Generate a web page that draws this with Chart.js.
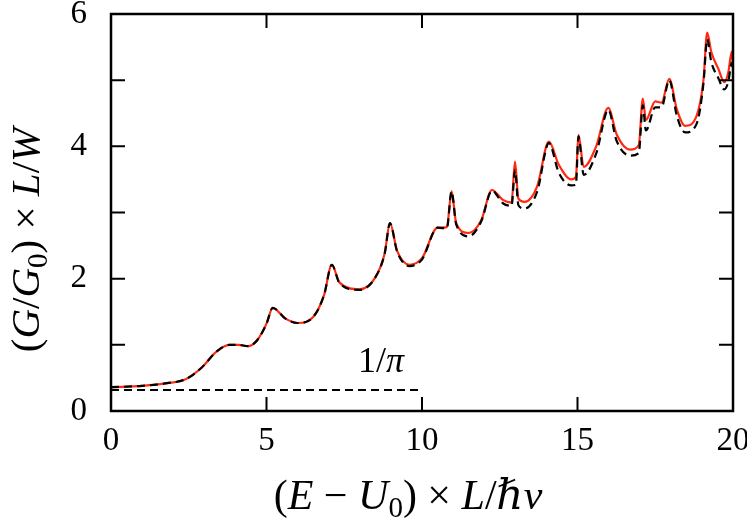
<!DOCTYPE html>
<html>
<head>
<meta charset="utf-8">
<script src="https://cdn.jsdelivr.net/npm/chart.js@4.4.1/dist/chart.umd.min.js"></script>
<style>
  html, body { margin: 0; padding: 0; background: #fff; }
</style>
</head>
<body>
<canvas id="chart" width="747" height="526"></canvas>
<script>
// energy axis, (E - U0) x L / hbar v
const energy = [0, 1, 1.8, 2.4, 2.9, 3.4, 3.8, 4.1, 4.4, 4.7,
  5.0, 5.2, 5.6, 6.0, 6.5, 6.85, 7.1, 7.35, 8.0, 8.5,
  8.8, 8.97, 9.2, 9.6, 10.0, 10.5, 10.8, 10.95, 11.1, 11.5,
  11.9, 12.25, 12.6, 12.88, 12.99, 13.1, 13.3, 13.7, 14.08, 14.4,
  14.8, 14.95, 15.03, 15.2, 15.6, 15.99, 16.26, 16.7, 16.97, 17.1,
  17.2, 17.5, 17.7, 17.95, 18.2, 18.46, 18.83, 19.05, 19.17, 19.3,
  19.53, 19.72, 19.85, 19.96, 20.0];

// solid red curve
const condRed = [0.36, 0.38, 0.42, 0.48, 0.65, 0.90, 1.00, 1.00, 0.98, 1.07,
  1.32, 1.56, 1.40, 1.33, 1.42, 1.75, 2.21, 1.94, 1.84, 2.02,
  2.38, 2.84, 2.42, 2.21, 2.31, 2.77, 2.78, 3.32, 2.84, 2.69,
  2.88, 3.34, 3.19, 3.15, 3.77, 3.21, 3.16, 3.39, 4.07, 3.72,
  3.50, 3.54, 4.17, 3.69, 4.00, 4.58, 4.18, 3.95, 4.02, 4.72,
  4.40, 4.68, 4.66, 5.02, 4.55, 4.31, 4.46, 5.00, 5.72, 5.43,
  5.17, 4.97, 5.12, 5.43, 5.25];

// dashed black curve
const condBlack = [0.36, 0.38, 0.42, 0.48, 0.65, 0.90, 1.00, 1.00, 0.98, 1.07,
  1.32, 1.56, 1.40, 1.33, 1.42, 1.75, 2.21, 1.93, 1.83, 2.02,
  2.38, 2.84, 2.41, 2.19, 2.29, 2.77, 2.76, 3.32, 2.82, 2.64,
  2.86, 3.33, 3.14, 3.10, 3.64, 3.11, 3.06, 3.31, 4.05, 3.60,
  3.41, 3.42, 4.15, 3.57, 3.89, 4.55, 4.08, 3.86, 3.90, 4.62,
  4.24, 4.59, 4.59, 5.00, 4.45, 4.21, 4.34, 4.95, 5.62, 5.28,
  5.03, 4.86, 4.98, 5.26, 5.15];

// 1/pi reference line
const limitX = [0, 10];
const limitY = [1 / Math.PI, 1 / Math.PI];

const xTicks = [0, 5, 10, 15, 20];
const yTicks = [0, 2, 4, 6];

const SERIF = '"Liberation Serif", "DejaVu Serif", serif';
const TICK = 14;

function toPoints(xs, ys) {
  return xs.map((x, i) => ({ x: x, y: ys[i] }));
}

function fontFor(style, size) {
  if (style === 'i') return 'italic ' + size + 'px ' + SERIF;
  if (style === 's') return Math.round(size * 0.7) + 'px ' + SERIF;
  return size + 'px ' + SERIF;
}

// draws mixed upright / italic / subscript text centred on cx
function drawRich(ctx, parts, size, cx, baseY) {
  let total = 0;
  parts.forEach(p => {
    ctx.font = fontFor(p[1], size);
    total += ctx.measureText(p[0]).width;
  });
  let x = cx - total / 2;
  ctx.textAlign = 'left';
  ctx.textBaseline = 'alphabetic';
  parts.forEach(p => {
    ctx.font = fontFor(p[1], size);
    const dy = p[1] === 's' ? size * 0.2 : 0;
    ctx.fillText(p[0], x, baseY + dy);
    x += ctx.measureText(p[0]).width;
  });
}

const xTitle = [['(', 'n'], ['E', 'i'], [' \u2212 ', 'n'], ['U', 'i'], ['0', 's'],
  [') \u00d7 ', 'n'], ['L', 'i'], ['/', 'n'], ['\u210f', 'i'], ['v', 'i']];
const yTitle = [['(', 'n'], ['G', 'i'], ['/', 'n'], ['G', 'i'], ['0', 's'],
  [') \u00d7 ', 'n'], ['L', 'i'], ['/', 'n'], ['W', 'i']];
const piLabel = [['1/', 'n'], ['\u03c0', 'i']];

function noPad(s) {
  s.paddingTop = 0;
  s.paddingBottom = 0;
  s.paddingLeft = 0;
  s.paddingRight = 0;
}

const framePlugin = {
  id: 'frame',
  afterDatasetsDraw(chart) {
    const { ctx, chartArea: a, scales } = chart;
    const sx = scales.x, sy = scales.y;
    ctx.save();
    ctx.strokeStyle = '#000';
    ctx.lineWidth = 2;
    ctx.beginPath();
    sx.ticks.forEach(t => {
      const px = sx.getPixelForValue(t.value);
      ctx.moveTo(px, a.bottom); ctx.lineTo(px, a.bottom - TICK);
      ctx.moveTo(px, a.top); ctx.lineTo(px, a.top + TICK);
    });
    sy.ticks.forEach(t => {
      const py = sy.getPixelForValue(t.value);
      ctx.moveTo(a.left, py); ctx.lineTo(a.left + TICK, py);
      ctx.moveTo(a.right, py); ctx.lineTo(a.right - TICK, py);
    });
    ctx.stroke();
    ctx.lineWidth = 2.5;
    ctx.strokeRect(a.left, a.top, a.right - a.left, a.bottom - a.top);

    ctx.fillStyle = '#000';
    // 1/pi label
    drawRich(ctx, piLabel, 36, sx.getPixelForValue(8.68), sy.getPixelForValue(0.59));
    // axis titles
    drawRich(ctx, xTitle, 42, 408, 509);
    ctx.translate(39, 240);
    ctx.rotate(-Math.PI / 2);
    drawRich(ctx, yTitle, 41, 0, 0);
    ctx.restore();
  }
};

new Chart(document.getElementById('chart'), {
  type: 'line',
  data: {
    datasets: [
      {
        data: toPoints(limitX, limitY),
        borderColor: '#000',
        borderWidth: 2,
        borderDash: [8, 5],
        pointRadius: 0,
        order: 0
      },
      {
        data: toPoints(energy, condBlack),
        borderColor: '#000',
        borderWidth: 2.2,
        borderDash: [8, 5],
        pointRadius: 0,
        cubicInterpolationMode: 'monotone',
        order: 1
      },
      {
        data: toPoints(energy, condRed),
        borderColor: '#ff2a10',
        borderWidth: 2.2,
        pointRadius: 0,
        cubicInterpolationMode: 'monotone',
        order: 2
      }
    ]
  },
  options: {
    responsive: false,
    animation: false,
    layout: { padding: { left: 0, top: 14, right: 14, bottom: 0 } },
    plugins: { legend: { display: false }, tooltip: { enabled: false } },
    scales: {
      x: {
        type: 'linear',
        min: 0,
        max: 20,
        afterFit: s => { s.height = 115; noPad(s); },
        afterBuildTicks: s => { s.ticks = xTicks.map(v => ({ value: v })); },
        grid: { display: false, drawTicks: false },
        border: { display: false },
        ticks: {
          padding: 11,
          color: '#000',
          font: { family: SERIF, size: 33 }
        }
      },
      y: {
        min: 0,
        max: 6,
        afterFit: s => { s.width = 111; noPad(s); },
        grid: { display: false, drawTicks: false },
        border: { display: false },
        ticks: {
          stepSize: 1,
          padding: 24,
          color: '#000',
          font: { family: SERIF, size: 33 },
          callback: v => (yTicks.includes(v) ? String(v) : '')
        }
      }
    }
  },
  plugins: [framePlugin]
});
</script>
</body>
</html>
